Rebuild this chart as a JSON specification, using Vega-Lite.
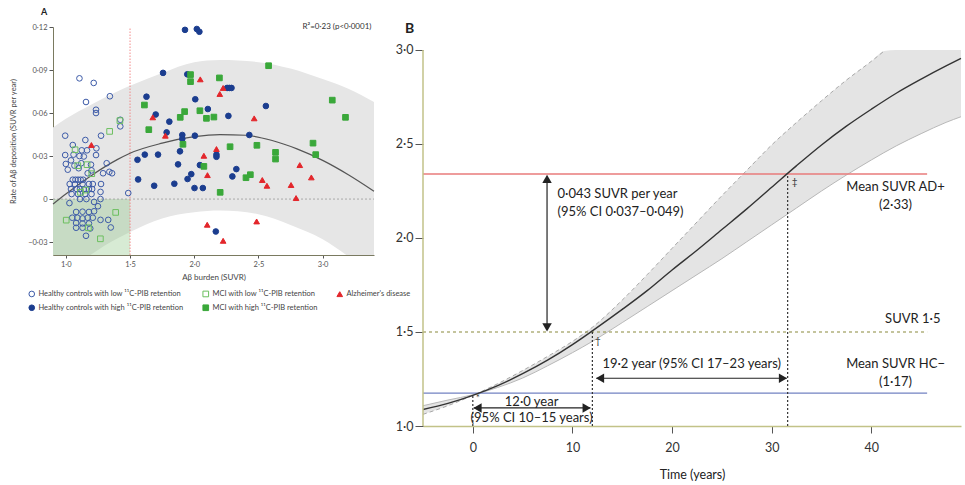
{
"$schema": "https://vega.github.io/schema/vega-lite/v6.json",
"padding": {"left": 9, "top": 8, "right": 2, "bottom": 0},
"bounds": "flush",
"spacing": 49,
"config": {
 "view": {"stroke": null},
 "font": "Lato",
 "axis": {"grid": false, "labelFont": "Lato", "titleFont": "Lato", "titleFontWeight": "normal"},
 "legend": {"orient": "none", "legendX": -25, "legendY": 263, "columns": 3, "gridAlign": "each", "labelFont": "Lato", "labelFontSize": 7.5, "labelColor": "#444", "symbolSize": 32, "symbolStrokeWidth": 1, "labelOffset": 3, "rowPadding": 3, "columnPadding": 16, "padding": 0},
 "title": {"font": "Lato"}
},
"datasets": {
 "bandA": [
  {"x":0.9,"y":-0.06,"y2":0.050},{"x":1.0,"y":-0.053,"y2":0.056},{"x":1.2,"y":-0.0385,"y2":0.066},{"x":1.4,"y":-0.0275,"y2":0.075},{"x":1.5,"y":-0.023,"y2":0.079},{"x":1.75,"y":-0.0135,"y2":0.088},{"x":2.0,"y":-0.0092,"y2":0.0955},{"x":2.2,"y":-0.008,"y2":0.097},{"x":2.5,"y":-0.0105,"y2":0.0955},{"x":2.75,"y":-0.018,"y2":0.091},{"x":3.0,"y":-0.028,"y2":0.0837},{"x":3.2,"y":-0.04,"y2":0.077},{"x":3.4,"y":-0.053,"y2":0.0677}
 ],
 "fitA": [
  {"x":0.9,"y":-0.0035},{"x":1.0,"y":0.0035},{"x":1.2,"y":0.0165},{"x":1.4,"y":0.0275},{"x":1.5,"y":0.032},{"x":1.75,"y":0.039},{"x":2.0,"y":0.0435},{"x":2.2,"y":0.045},{"x":2.4,"y":0.0445},{"x":2.6,"y":0.041},{"x":2.8,"y":0.035},{"x":3.0,"y":0.027},{"x":3.2,"y":0.017},{"x":3.4,"y":0.0055}
 ],
 "pts": [
  {"x":1.106,"y":0.0842,"g":"hcl"},{"x":1.217,"y":0.081,"g":"hcl"},{"x":1.157,"y":0.0677,"g":"hcl"},{"x":1.343,"y":0.0717,"g":"hcl"},{"x":1.235,"y":0.0623,"g":"hcl"},{"x":1.235,"y":0.060,"g":"hcl"},{"x":1.424,"y":0.0553,"g":"hcl"},{"x":1.424,"y":0.0507,"g":"hcl"},{"x":0.995,"y":0.0442,"g":"hcl"},{"x":1.274,"y":0.0442,"g":"hcl"},{"x":1.152,"y":0.0412,"g":"hcl"},{"x":1.054,"y":0.0377,"g":"hcl"},{"x":1.124,"y":0.034,"g":"hcl"},{"x":1.165,"y":0.034,"g":"hcl"},{"x":1.238,"y":0.0354,"g":"hcl"},{"x":0.995,"y":0.0307,"g":"hcl"},{"x":1.04,"y":0.027,"g":"hcl"},{"x":1.0,"y":0.0245,"g":"hcl"},{"x":1.106,"y":0.030,"g":"hcl"},{"x":1.14,"y":0.0297,"g":"hcl"},{"x":1.235,"y":0.0307,"g":"hcl"},{"x":1.318,"y":0.025,"g":"hcl"},{"x":1.196,"y":0.024,"g":"hcl"},{"x":1.067,"y":0.0233,"g":"hcl"},{"x":1.10,"y":0.0215,"g":"hcl"},{"x":1.015,"y":0.0205,"g":"hcl"},{"x":1.339,"y":0.019,"g":"hcl"},{"x":1.36,"y":0.018,"g":"hcl"},{"x":1.17,"y":0.018,"g":"hcl"},{"x":1.054,"y":0.0135,"g":"hcl"},{"x":1.075,"y":0.0135,"g":"hcl"},{"x":1.095,"y":0.0135,"g":"hcl"},{"x":1.115,"y":0.0135,"g":"hcl"},{"x":1.135,"y":0.0135,"g":"hcl"},{"x":1.03,"y":0.0105,"g":"hcl"},{"x":1.07,"y":0.0105,"g":"hcl"},{"x":1.13,"y":0.0105,"g":"hcl"},{"x":1.18,"y":0.0105,"g":"hcl"},{"x":1.21,"y":0.0105,"g":"hcl"},{"x":1.274,"y":0.0105,"g":"hcl"},{"x":1.04,"y":0.007,"g":"hcl"},{"x":1.085,"y":0.007,"g":"hcl"},{"x":1.11,"y":0.007,"g":"hcl"},{"x":1.14,"y":0.0068,"g":"hcl"},{"x":1.18,"y":0.007,"g":"hcl"},{"x":1.205,"y":0.007,"g":"hcl"},{"x":1.27,"y":0.005,"g":"hcl"},{"x":1.486,"y":0.0042,"g":"hcl"},{"x":1.045,"y":0.0035,"g":"hcl"},{"x":1.095,"y":0.0035,"g":"hcl"},{"x":1.15,"y":0.0035,"g":"hcl"},{"x":1.2,"y":0.0035,"g":"hcl"},{"x":1.11,"y":0.0,"g":"hcl"},{"x":1.16,"y":0.0,"g":"hcl"},{"x":1.27,"y":0.0,"g":"hcl"},{"x":1.028,"y":-0.0028,"g":"hcl"},{"x":1.22,"y":-0.002,"g":"hcl"},{"x":1.25,"y":-0.005,"g":"hcl"},{"x":1.08,"y":-0.009,"g":"hcl"},{"x":1.13,"y":-0.0088,"g":"hcl"},{"x":1.18,"y":-0.009,"g":"hcl"},{"x":1.22,"y":-0.0085,"g":"hcl"},{"x":1.05,"y":-0.013,"g":"hcl"},{"x":1.09,"y":-0.013,"g":"hcl"},{"x":1.13,"y":-0.0135,"g":"hcl"},{"x":1.17,"y":-0.013,"g":"hcl"},{"x":1.21,"y":-0.013,"g":"hcl"},{"x":1.27,"y":-0.0145,"g":"hcl"},{"x":1.33,"y":-0.0145,"g":"hcl"},{"x":1.08,"y":-0.0167,"g":"hcl"},{"x":1.13,"y":-0.017,"g":"hcl"},{"x":1.18,"y":-0.017,"g":"hcl"},{"x":1.08,"y":-0.02,"g":"hcl"},{"x":1.13,"y":-0.02,"g":"hcl"},{"x":1.19,"y":-0.0205,"g":"hcl"},{"x":1.35,"y":-0.0198,"g":"hcl"},{"x":1.157,"y":-0.0256,"g":"hcl"},{"x":1.2,"y":0.02,"g":"hcl"},{"x":1.06,"y":0.031,"g":"hcl"},{"x":1.12,"y":0.025,"g":"hcl"},{"x":1.29,"y":0.018,"g":"hcl"},
  {"x":1.072,"y":0.0344,"g":"mcil"},{"x":1.093,"y":0.0233,"g":"mcil"},{"x":1.165,"y":0.024,"g":"mcil"},{"x":1.202,"y":0.0177,"g":"mcil"},{"x":1.341,"y":0.0472,"g":"mcil"},{"x":1.421,"y":0.0547,"g":"mcil"},{"x":1.155,"y":0.0063,"g":"mcil"},{"x":1.114,"y":0.0047,"g":"mcil"},{"x":1.003,"y":-0.0147,"g":"mcil"},{"x":1.388,"y":-0.0093,"g":"mcil"},{"x":1.176,"y":-0.020,"g":"mcil"},{"x":1.269,"y":-0.0277,"g":"mcil"},
  {"x":1.928,"y":0.118,"g":"hch"},{"x":2.02,"y":0.1186,"g":"hch"},{"x":2.04,"y":0.1167,"g":"hch"},{"x":1.757,"y":0.088,"g":"hch"},{"x":1.946,"y":0.087,"g":"hch"},{"x":1.628,"y":0.0714,"g":"hch"},{"x":2.008,"y":0.0696,"g":"hch"},{"x":2.256,"y":0.0775,"g":"hch"},{"x":2.273,"y":0.0775,"g":"hch"},{"x":2.29,"y":0.0775,"g":"hch"},{"x":1.70,"y":0.059,"g":"hch"},{"x":2.106,"y":0.0628,"g":"hch"},{"x":2.266,"y":0.058,"g":"hch"},{"x":2.558,"y":0.0649,"g":"hch"},{"x":1.806,"y":0.054,"g":"hch"},{"x":1.785,"y":0.0465,"g":"hch"},{"x":1.907,"y":0.0447,"g":"hch"},{"x":1.907,"y":0.042,"g":"hch"},{"x":2.005,"y":0.0442,"g":"hch"},{"x":2.429,"y":0.0447,"g":"hch"},{"x":1.558,"y":0.0274,"g":"hch"},{"x":1.615,"y":0.031,"g":"hch"},{"x":1.718,"y":0.031,"g":"hch"},{"x":1.889,"y":0.0333,"g":"hch"},{"x":2.173,"y":0.031,"g":"hch"},{"x":2.173,"y":0.0295,"g":"hch"},{"x":1.874,"y":0.0242,"g":"hch"},{"x":2.044,"y":0.0237,"g":"hch"},{"x":2.328,"y":0.0209,"g":"hch"},{"x":1.977,"y":0.0174,"g":"hch"},{"x":1.948,"y":0.014,"g":"hch"},{"x":2.297,"y":0.0158,"g":"hch"},{"x":1.563,"y":0.0137,"g":"hch"},{"x":1.688,"y":0.0093,"g":"hch"},{"x":1.845,"y":0.0107,"g":"hch"},{"x":2.002,"y":0.0077,"g":"hch"},{"x":2.067,"y":0.0077,"g":"hch"},{"x":2.168,"y":-0.0226,"g":"hch"},
  {"x":2.579,"y":0.093,"g":"mcih"},{"x":1.971,"y":0.0868,"g":"mcih"},{"x":1.971,"y":0.0819,"g":"mcih"},{"x":2.196,"y":0.0845,"g":"mcih"},{"x":3.075,"y":0.069,"g":"mcih"},{"x":3.178,"y":0.057,"g":"mcih"},{"x":1.612,"y":0.0656,"g":"mcih"},{"x":1.925,"y":0.061,"g":"mcih"},{"x":1.891,"y":0.057,"g":"mcih"},{"x":2.044,"y":0.0616,"g":"mcih"},{"x":2.095,"y":0.0563,"g":"mcih"},{"x":2.153,"y":0.0572,"g":"mcih"},{"x":1.646,"y":0.0484,"g":"mcih"},{"x":1.912,"y":0.0382,"g":"mcih"},{"x":2.279,"y":0.0365,"g":"mcih"},{"x":2.488,"y":0.0375,"g":"mcih"},{"x":2.633,"y":0.0326,"g":"mcih"},{"x":2.633,"y":0.0279,"g":"mcih"},{"x":2.925,"y":0.039,"g":"mcih"},{"x":2.946,"y":0.031,"g":"mcih"},{"x":2.075,"y":0.0228,"g":"mcih"},{"x":2.403,"y":0.0149,"g":"mcih"},{"x":2.437,"y":0.017,"g":"mcih"},{"x":2.202,"y":0.0047,"g":"mcih"},
  {"x":2.047,"y":0.0835,"g":"ad"},{"x":2.225,"y":0.0775,"g":"ad"},{"x":2.199,"y":0.0733,"g":"ad"},{"x":1.677,"y":0.057,"g":"ad"},{"x":2.467,"y":0.0563,"g":"ad"},{"x":1.775,"y":0.0442,"g":"ad"},{"x":2.173,"y":0.0349,"g":"ad"},{"x":2.075,"y":0.0302,"g":"ad"},{"x":2.103,"y":0.0167,"g":"ad"},{"x":2.822,"y":0.0237,"g":"ad"},{"x":2.912,"y":0.0151,"g":"ad"},{"x":2.53,"y":0.0133,"g":"ad"},{"x":2.566,"y":0.0093,"g":"ad"},{"x":2.754,"y":0.0098,"g":"ad"},{"x":2.793,"y":0.0007,"g":"ad"},{"x":2.101,"y":-0.0179,"g":"ad"},{"x":2.486,"y":-0.0156,"g":"ad"},{"x":2.225,"y":-0.0291,"g":"ad"},{"x":1.199,"y":0.0377,"g":"ad"}
 ],
 "bandB": [
  {"t":-5,"v":1.062,"v2":1.108},{"t":-2.5,"v":1.108,"v2":1.138},{"t":0,"v":1.163,"v2":1.166},{"t":2.5,"v":1.205,"v2":1.225},{"t":5,"v":1.255,"v2":1.295},{"t":7.5,"v":1.32,"v2":1.37},{"t":10,"v":1.39,"v2":1.45},{"t":12,"v":1.45,"v2":1.525},{"t":15,"v":1.55,"v2":1.67},{"t":17.5,"v":1.635,"v2":1.805},{"t":20,"v":1.72,"v2":1.945},{"t":22.5,"v":1.805,"v2":2.085},{"t":25,"v":1.89,"v2":2.225},{"t":27.5,"v":1.98,"v2":2.36},{"t":30,"v":2.07,"v2":2.495},{"t":32.5,"v":2.16,"v2":2.615},{"t":35,"v":2.25,"v2":2.73},{"t":37.5,"v":2.335,"v2":2.84},{"t":40,"v":2.415,"v2":2.94},{"t":41.3,"v":2.455,"v2":2.995},{"t":42.5,"v":2.49,"v2":3.0},{"t":45,"v":2.555,"v2":3.0},{"t":47.5,"v":2.615,"v2":3.0},{"t":49,"v":2.645,"v2":3.0}
 ],
 "centerB": [
  {"t":-5,"v":1.088},{"t":-2.5,"v":1.12},{"t":0,"v":1.163},{"t":2.5,"v":1.215},{"t":5,"v":1.278},{"t":7.5,"v":1.35},{"t":10,"v":1.433},{"t":12,"v":1.506},{"t":15,"v":1.62},{"t":17.5,"v":1.72},{"t":20,"v":1.83},{"t":22.5,"v":1.935},{"t":25,"v":2.045},{"t":27.5,"v":2.155},{"t":30,"v":2.27},{"t":32.5,"v":2.385},{"t":35,"v":2.495},{"t":37.5,"v":2.595},{"t":40,"v":2.685},{"t":42.5,"v":2.77},{"t":45,"v":2.845},{"t":47.5,"v":2.915},{"t":49,"v":2.955}
 ],
 "upperB": [
  {"t":-5,"v":1.062},{"t":-2.5,"v":1.108},{"t":0,"v":1.163},{"t":2.5,"v":1.225},{"t":5,"v":1.295},{"t":7.5,"v":1.37},{"t":10,"v":1.45},{"t":12,"v":1.525},{"t":15,"v":1.67},{"t":17.5,"v":1.805},{"t":20,"v":1.945},{"t":22.5,"v":2.085},{"t":25,"v":2.225},{"t":27.5,"v":2.36},{"t":30,"v":2.495},{"t":32.5,"v":2.615},{"t":35,"v":2.73},{"t":37.5,"v":2.84},{"t":40,"v":2.94},{"t":41.3,"v":2.995}
 ],
 "lowerB": [
  {"t":-5,"v":1.108},{"t":-2.5,"v":1.138},{"t":0,"v":1.166},{"t":2.5,"v":1.205},{"t":5,"v":1.255},{"t":7.5,"v":1.32},{"t":10,"v":1.39},{"t":12,"v":1.45},{"t":15,"v":1.55},{"t":17.5,"v":1.635},{"t":20,"v":1.72},{"t":22.5,"v":1.805},{"t":25,"v":1.89},{"t":27.5,"v":1.98},{"t":30,"v":2.07},{"t":32.5,"v":2.16},{"t":35,"v":2.25},{"t":37.5,"v":2.335},{"t":40,"v":2.415},{"t":42.5,"v":2.49},{"t":45,"v":2.555},{"t":47.5,"v":2.615},{"t":49,"v":2.645}
 ]
},
"hconcat": [
 {
  "width": 321, "height": 228,
  "title": {"text": "A", "anchor": "start", "frame": "group", "dx": -12, "offset": 6, "fontSize": 9, "fontWeight": "bold", "color": "#222"},
  "layer": [
   {"data": {"name": "bandA"}, "mark": {"type": "area", "color": "#e6e6e6", "clip": true, "interpolate": "monotone"},
    "encoding": {
     "x": {"field": "x", "type": "quantitative", "scale": {"domain": [0.9, 3.4], "nice": false, "zero": false},
       "axis": {"values": [1, 1.5, 2, 2.5, 3], "labelExpr": "replace(format(datum.value,'.1f'),'.','·')", "title": "Aβ burden (SUVR)", "tickSize": 3, "labelPadding": 2, "labelFontSize": 7.5, "titleFontSize": 8, "titlePadding": 6, "domainColor": "#7a7a60", "tickColor": "#555", "labelColor": "#555", "titleColor": "#444"}},
     "y": {"field": "y", "type": "quantitative", "scale": {"domain": [-0.039, 0.12], "nice": false, "zero": false},
       "axis": {"values": [-0.03, 0, 0.03, 0.06, 0.09, 0.12], "labelExpr": "datum.value == 0 ? '0' : replace(format(datum.value,'.2f'),'.','·')", "title": "Rate of Aβ deposition (SUVR per year)", "tickSize": 4, "labelPadding": 2, "labelFontSize": 7.5, "titleFontSize": 7.5, "titlePadding": 10, "domainColor": "#7a7a60", "tickColor": "#555", "labelColor": "#555", "titleColor": "#444"}},
     "y2": {"field": "y2"}
    }},
   {"data": {"values": [{"x": 0.9, "x2": 1.5, "y": -0.039, "y2": 0}]}, "mark": {"type": "rect", "color": "#8cc784", "opacity": 0.35},
    "encoding": {"x": {"field": "x", "type": "quantitative"}, "x2": {"field": "x2"}, "y": {"field": "y", "type": "quantitative"}, "y2": {"field": "y2"}}},
   {"data": {"values": [{"x": 0.9, "x2": 3.4, "y": 0}]}, "mark": {"type": "rule", "color": "#999", "strokeDash": [2, 2], "strokeWidth": 0.8},
    "encoding": {"x": {"field": "x", "type": "quantitative"}, "x2": {"field": "x2"}, "y": {"field": "y", "type": "quantitative"}}},
   {"data": {"values": [{"x": 1.5, "y": -0.039, "y2": 0.12}]}, "mark": {"type": "rule", "color": "#f08080", "strokeDash": [1.5, 1.5], "strokeWidth": 0.9},
    "encoding": {"x": {"field": "x", "type": "quantitative"}, "y": {"field": "y", "type": "quantitative"}, "y2": {"field": "y2"}}},
   {"data": {"name": "fitA"}, "mark": {"type": "line", "color": "#555", "strokeWidth": 1.2, "interpolate": "monotone"},
    "encoding": {"x": {"field": "x", "type": "quantitative"}, "y": {"field": "y", "type": "quantitative"}}},
   {"data": {"name": "pts"}, "mark": {"type": "point", "strokeWidth": 1, "opacity": 1, "size": 32},
    "encoding": {
     "x": {"field": "x", "type": "quantitative"},
     "y": {"field": "y", "type": "quantitative"},
     "shape": {"field": "g", "type": "nominal", "scale": {"domain": ["hcl", "hch", "mcil", "mcih", "ad"], "range": ["circle", "circle", "square", "square", "triangle-up"]},
       "legend": {"title": null, "labelExpr": "datum.label=='hcl'?'Healthy controls with low ¹¹C-PIB retention':datum.label=='mcil'?'MCI with low ¹¹C-PIB retention':datum.label=='hch'?'Healthy controls with high ¹¹C-PIB retention':datum.label=='mcih'?'MCI with high ¹¹C-PIB retention':\"Alzheimer's disease\""}},
     "fill": {"field": "g", "type": "nominal", "scale": {"domain": ["hcl", "hch", "mcil", "mcih", "ad"], "range": ["transparent", "#1b3d8f", "transparent", "#3aa83a", "#e3262b"]},
       "legend": {"title": null, "labelExpr": "datum.label=='hcl'?'Healthy controls with low ¹¹C-PIB retention':datum.label=='mcil'?'MCI with low ¹¹C-PIB retention':datum.label=='hch'?'Healthy controls with high ¹¹C-PIB retention':datum.label=='mcih'?'MCI with high ¹¹C-PIB retention':\"Alzheimer's disease\""}},
     "stroke": {"field": "g", "type": "nominal", "scale": {"domain": ["hcl", "hch", "mcil", "mcih", "ad"], "range": ["#3d5ba8", "#1b3d8f", "#6cbf5f", "#3aa83a", "#e3262b"]},
       "legend": {"title": null, "labelExpr": "datum.label=='hcl'?'Healthy controls with low ¹¹C-PIB retention':datum.label=='mcil'?'MCI with low ¹¹C-PIB retention':datum.label=='hch'?'Healthy controls with high ¹¹C-PIB retention':datum.label=='mcih'?'MCI with high ¹¹C-PIB retention':\"Alzheimer's disease\""}}
    }},
   {"data": {"values": [{"x": 3.38, "y": 0.12, "label": "R²=0·23 (p<0·0001)"}]}, "mark": {"type": "text", "align": "right", "baseline": "middle", "fontSize": 8, "color": "#333", "font": "Lato"},
    "encoding": {"x": {"field": "x", "type": "quantitative"}, "y": {"field": "y", "type": "quantitative"}, "text": {"field": "label"}}}
  ]
 },
 {
  "width": 538, "height": 399,
  "title": {"text": "B", "anchor": "start", "frame": "group", "dx": -18, "dy": 9, "offset": 0, "fontSize": 14, "fontWeight": "bold", "color": "#222"},
  "layer": [
   {"data": {"name": "bandB"}, "mark": {"type": "area", "color": "#e4e4e4", "interpolate": "monotone"},
    "encoding": {
     "x": {"field": "t", "type": "quantitative", "scale": {"domain": [-5, 49], "nice": false, "zero": false},
       "axis": {"values": [0, 10, 20, 30, 40], "title": "Time (years)", "tickSize": 7, "labelPadding": 8, "labelFontSize": 12.5, "titleFontSize": 12.5, "titlePadding": 15, "domainColor": "#c2c288", "domainWidth": 1.5, "tickColor": "#555", "labelColor": "#333", "titleColor": "#222"}},
     "y": {"field": "v", "type": "quantitative", "scale": {"domain": [1, 3.1223], "nice": false, "zero": false},
       "axis": {"values": [1, 1.5, 2, 2.5, 3], "labelExpr": "replace(format(datum.value,'.1f'),'.','·')", "title": null, "domain": false, "tickSize": 8, "labelPadding": 2, "labelFontSize": 12.5, "tickColor": "#555", "labelColor": "#333"}},
     "y2": {"field": "v2"}
    }},
   {"data": {"name": "lowerB"}, "mark": {"type": "line", "color": "#b8b8b8", "strokeWidth": 1, "interpolate": "monotone"},
    "encoding": {"x": {"field": "t", "type": "quantitative"}, "y": {"field": "v", "type": "quantitative"}}},
   {"data": {"name": "upperB"}, "mark": {"type": "line", "color": "#a8a8a8", "strokeWidth": 1, "strokeDash": [4, 3], "interpolate": "monotone"},
    "encoding": {"x": {"field": "t", "type": "quantitative"}, "y": {"field": "v", "type": "quantitative"}}},
   {"data": {"values": [{"t": -5, "t2": 45.6, "v": 2.34}]}, "mark": {"type": "rule", "color": "#e87b7b", "strokeWidth": 1.5},
    "encoding": {"x": {"field": "t", "type": "quantitative"}, "x2": {"field": "t2"}, "y": {"field": "v", "type": "quantitative"}}},
   {"data": {"values": [{"t": -5, "t2": 45.6, "v": 1.175}]}, "mark": {"type": "rule", "color": "#7282c2", "strokeWidth": 1.2},
    "encoding": {"x": {"field": "t", "type": "quantitative"}, "x2": {"field": "t2"}, "y": {"field": "v", "type": "quantitative"}}},
   {"data": {"values": [{"t": -5, "t2": 45.6, "v": 1.5}]}, "mark": {"type": "rule", "color": "#8a8a3c", "strokeWidth": 1.2, "strokeDash": [3, 3]},
    "encoding": {"x": {"field": "t", "type": "quantitative"}, "x2": {"field": "t2"}, "y": {"field": "v", "type": "quantitative"}}},
   {"data": {"values": [{"t": 0, "v": 1.0, "v2": 1.17}, {"t": 12, "v": 1.0, "v2": 1.5}, {"t": 31.6, "v": 1.0, "v2": 2.34}]}, "mark": {"type": "rule", "color": "#333", "strokeWidth": 1.2, "strokeDash": [2, 2]},
    "encoding": {"x": {"field": "t", "type": "quantitative"}, "y": {"field": "v", "type": "quantitative"}, "y2": {"field": "v2"}}},
   {"data": {"name": "centerB"}, "mark": {"type": "line", "color": "#333", "strokeWidth": 1.4, "interpolate": "monotone"},
    "encoding": {"x": {"field": "t", "type": "quantitative"}, "y": {"field": "v", "type": "quantitative"}}},
   {"data": {"values": [{"t": 7.45, "v": 1.52, "v2": 2.32}]}, "mark": {"type": "rule", "color": "#222", "strokeWidth": 1.2},
    "encoding": {"x": {"field": "t", "type": "quantitative"}, "y": {"field": "v", "type": "quantitative"}, "y2": {"field": "v2"}}},
   {"data": {"values": [{"t": 12.4, "t2": 31.5, "v": 1.254}, {"t": 0.1, "t2": 11.8, "v": 1.096}]}, "mark": {"type": "rule", "color": "#222", "strokeWidth": 1.2},
    "encoding": {"x": {"field": "t", "type": "quantitative"}, "x2": {"field": "t2"}, "y": {"field": "v", "type": "quantitative"}}},
   {"data": {"values": [{"t": 7.45, "v": 2.315}]}, "mark": {"type": "point", "shape": "triangle-up", "filled": true, "color": "#222", "size": 90, "opacity": 1},
    "encoding": {"x": {"field": "t", "type": "quantitative"}, "y": {"field": "v", "type": "quantitative"}}},
   {"data": {"values": [{"t": 7.45, "v": 1.525}]}, "mark": {"type": "point", "shape": "triangle-down", "filled": true, "color": "#222", "size": 90, "opacity": 1},
    "encoding": {"x": {"field": "t", "type": "quantitative"}, "y": {"field": "v", "type": "quantitative"}}},
   {"data": {"values": [{"t": 12.77, "v": 1.254}, {"t": 0.47, "v": 1.096}]}, "mark": {"type": "point", "shape": "triangle-left", "filled": true, "color": "#222", "size": 90, "opacity": 1},
    "encoding": {"x": {"field": "t", "type": "quantitative"}, "y": {"field": "v", "type": "quantitative"}}},
   {"data": {"values": [{"t": 31.13, "v": 1.254}, {"t": 11.43, "v": 1.096}]}, "mark": {"type": "point", "shape": "triangle-right", "filled": true, "color": "#222", "size": 90, "opacity": 1},
    "encoding": {"x": {"field": "t", "type": "quantitative"}, "y": {"field": "v", "type": "quantitative"}}},
   {"data": {"values": [{"t": 8.5, "v": 2.234, "label": "0·043 SUVR per year"}, {"t": 8.5, "v": 2.138, "label": "(95% CI 0·037–0·049)"}]}, "mark": {"type": "text", "align": "left", "baseline": "middle", "fontSize": 13, "color": "#222", "font": "Lato"},
    "encoding": {"x": {"field": "t", "type": "quantitative"}, "y": {"field": "v", "type": "quantitative"}, "text": {"field": "label"}}},
   {"data": {"values": [{"t": 42.43, "v": 2.271, "label": "Mean SUVR AD+"}, {"t": 42.43, "v": 2.176, "label": "(2·33)"}, {"t": 42.43, "v": 1.33, "label": "Mean SUVR HC−"}, {"t": 42.43, "v": 1.234, "label": "(1·17)"}, {"t": 21.97, "v": 1.33, "label": "19·2 year (95% CI 17–23 years)"}, {"t": 5.9, "v": 1.128, "label": "12·0 year"}, {"t": 5.9, "v": 1.043, "label": "(95% CI 10–15 years)"}]}, "mark": {"type": "text", "align": "center", "baseline": "middle", "fontSize": 13, "color": "#222", "font": "Lato"},
    "encoding": {"x": {"field": "t", "type": "quantitative"}, "y": {"field": "v", "type": "quantitative"}, "text": {"field": "label"}}},
   {"data": {"values": [{"t": 46.94, "v": 1.569, "label": "SUVR 1·5"}]}, "mark": {"type": "text", "align": "right", "baseline": "middle", "fontSize": 13, "color": "#222", "font": "Lato"},
    "encoding": {"x": {"field": "t", "type": "quantitative"}, "y": {"field": "v", "type": "quantitative"}, "text": {"field": "label"}}},
   {"data": {"values": [{"t": 0.5, "v": 1.148, "label": "*"}, {"t": 12.55, "v": 1.45, "label": "†"}, {"t": 32.3, "v": 2.296, "label": "‡"}]}, "mark": {"type": "text", "align": "center", "baseline": "middle", "fontSize": 10, "color": "#333", "font": "Lato"},
    "encoding": {"x": {"field": "t", "type": "quantitative"}, "y": {"field": "v", "type": "quantitative"}, "text": {"field": "label"}}},
   {"data": {"values": [{"t": -5, "v": 1.0, "v2": 3.0}]}, "mark": {"type": "rule", "color": "#c2c288", "strokeWidth": 1.5},
    "encoding": {"x": {"field": "t", "type": "quantitative"}, "y": {"field": "v", "type": "quantitative"}, "y2": {"field": "v2"}}}
  ]
 }
]
}
